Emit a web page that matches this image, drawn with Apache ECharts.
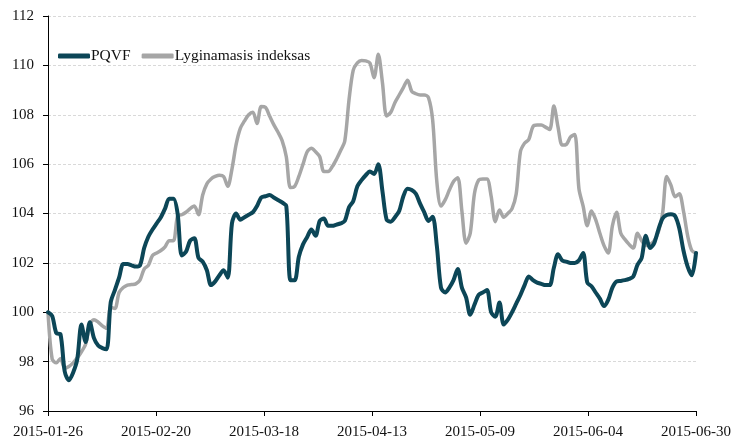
<!DOCTYPE html>
<html>
<head>
<meta charset="utf-8">
<script src="https://cdn.jsdelivr.net/npm/echarts@6/dist/echarts.min.js"></script>
<style>html,body{margin:0;padding:0;background:#fff}#c{width:744px;height:442px}</style>
</head>
<body>
<div id="c"></div>
<script>
// ---- data ----
const startDate = '2015-01-26';
const endDate = '2015-06-30';
const xTickLabels = ['2015-01-26','2015-02-20','2015-03-18','2015-04-13','2015-05-09','2015-06-04','2015-06-30'];
const yTicks = [96, 98, 100, 102, 104, 106, 108, 110, 112];
const seriesNames = ['PQVF', 'Lyginamasis indeksas'];

// daily values, one per calendar day from startDate to endDate
const pqvf = [
100.0,99.85,99.15,99.1,97.6,97.25,97.55,98.1,99.5,98.8,
99.6,98.95,98.65,98.55,98.5,100.4,100.9,101.4,101.95,101.95,
101.9,101.85,101.9,102.6,103.06,103.35,103.6,103.85,104.2,104.6,
104.6,104.0,102.3,102.45,102.9,103.0,102.2,102.05,101.7,101.1,
101.25,101.5,101.7,101.4,103.6,104.0,103.75,103.85,103.95,104.05,
104.3,104.65,104.7,104.75,104.65,104.55,104.45,104.3,101.3,101.3,
102.25,102.75,103.05,103.35,103.1,103.7,103.8,103.5,103.5,103.55,
103.6,103.7,104.25,104.5,105.1,105.35,105.55,105.7,105.6,106.0,
104.9,103.75,103.67,103.85,104.1,104.7,105.0,104.95,104.8,104.4,
104.05,103.7,103.87,102.7,101.0,100.8,101.0,101.3,101.75,101.0,
100.6,99.9,100.3,100.7,100.8,100.9,100.0,99.82,100.4,99.5,
99.7,100.0,100.35,100.7,101.1,101.45,101.3,101.2,101.15,101.1,
101.1,101.8,102.35,102.1,102.05,102.0,102.0,102.1,102.4,101.2,
101.05,100.8,100.55,100.25,100.5,101.0,101.25,101.27,101.3,101.35,
101.45,101.92,102.2,103.1,102.6,102.8,103.35,103.8,103.94,103.97,
103.9,103.4,102.5,101.85,101.5,102.4
];
const indeksas = [
100.0,98.1,97.95,98.13,97.73,97.8,97.95,98.15,98.4,98.7,
99.5,99.7,99.6,99.45,99.35,100.2,100.15,100.8,101.0,101.1,
101.12,101.15,101.3,101.75,101.9,102.3,102.4,102.5,102.65,102.9,
102.9,103.9,103.95,104.05,104.2,104.3,103.95,104.75,105.2,105.4,
105.5,105.55,105.5,105.1,105.8,106.8,107.45,107.75,108.0,108.1,
107.65,108.33,108.3,107.95,107.6,107.3,106.95,106.3,105.05,105.1,
105.5,106.0,106.5,106.64,106.5,106.3,105.7,105.7,105.9,106.2,
106.55,106.95,108.6,109.8,110.1,110.2,110.18,110.1,109.5,110.45,
109.3,107.95,108.1,108.5,108.8,109.1,109.4,108.95,108.85,108.8,
108.8,108.7,107.8,105.3,104.3,104.55,104.95,105.3,105.45,104.1,
102.8,103.2,104.8,105.35,105.4,105.4,104.7,103.67,104.14,103.85,
104.0,104.2,104.8,106.5,106.85,107.0,107.52,107.58,107.58,107.5,
107.4,108.35,107.5,106.77,106.8,107.1,107.2,105.0,104.3,103.5,
104.1,103.75,103.2,102.7,102.4,103.5,104.05,103.2,102.95,102.75,
102.6,103.2,102.9,102.7,102.75,102.9,103.25,104.0,105.5,105.15,
104.68,104.8,104.1,103.1,102.5,102.4
];

// ---- build ----
const DAY = 86400000;
function toUTC(s){ const p = s.split('-').map(Number); return Date.UTC(p[0], p[1]-1, p[2]); }
const t0 = toUTC(startDate);
const totalDays = Math.round((toUTC(endDate) - t0) / DAY);
const dates = [];
for (let i = 0; i < pqvf.length; i++) {
  const d = new Date(t0 + i * DAY);
  dates.push(d.toISOString().slice(0, 10));
}
function dayOf(s){ return Math.round((toUTC(s) - t0) / DAY); }
const xInterval = totalDays / (xTickLabels.length - 1);

const FONT = "'Liberation Serif', 'DejaVu Serif', serif";
const chart = echarts.init(document.getElementById('c'), null, {renderer: 'canvas'});
chart.setOption({
  animation: false,
  backgroundColor: '#ffffff',
  textStyle: {fontFamily: FONT},
  grid: {left: 48, right: 48, top: 16, bottom: 31, containLabel: false},
  legend: {
    left: 53, top: 43,
    itemGap: 11,
    itemWidth: 32, itemHeight: 5,
    icon: 'roundRect',
    textStyle: {fontFamily: FONT, fontSize: 15.5, color: '#111', padding: [0, 0, 0, -4]},
    data: seriesNames
  },
  xAxis: {
    type: 'value',
    min: 0, max: totalDays, interval: xInterval,
    axisLine: {show: true, lineStyle: {color: '#000', width: 1}},
    axisTick: {show: true, length: 5, lineStyle: {color: '#000'}},
    splitLine: {show: false},
    axisLabel: {
      fontFamily: FONT, fontSize: 15, color: '#111', margin: 14,
      formatter: function (v) { return xTickLabels[Math.round(v / xInterval)] || ''; }
    }
  },
  yAxis: {
    type: 'value',
    min: yTicks[0], max: yTicks[yTicks.length - 1], interval: yTicks[1] - yTicks[0],
    axisLine: {show: true, lineStyle: {color: '#000', width: 1}},
    axisTick: {show: true, length: 5, lineStyle: {color: '#000'}},
    splitLine: {show: true, lineStyle: {color: '#d9d9d9', type: [3, 2], width: 1}},
    axisLabel: {fontFamily: FONT, fontSize: 15, color: '#111', margin: 14}
  },
  series: [
    {
      name: seriesNames[0], type: 'line', z: 3,
      data: dates.map((d, i) => [dayOf(d), pqvf[i]]),
      showSymbol: false, smooth: 0.3,
      lineStyle: {color: '#0c4657', width: 4, cap: 'round', join: 'round'},
      itemStyle: {color: '#0c4657'}
    },
    {
      name: seriesNames[1], type: 'line', z: 2,
      data: dates.map((d, i) => [dayOf(d), indeksas[i]]),
      showSymbol: false, smooth: 0.3,
      lineStyle: {color: '#a6a6a6', width: 3.5, cap: 'round', join: 'round'},
      itemStyle: {color: '#a6a6a6'}
    }
  ]
});
</script>
</body>
</html>
